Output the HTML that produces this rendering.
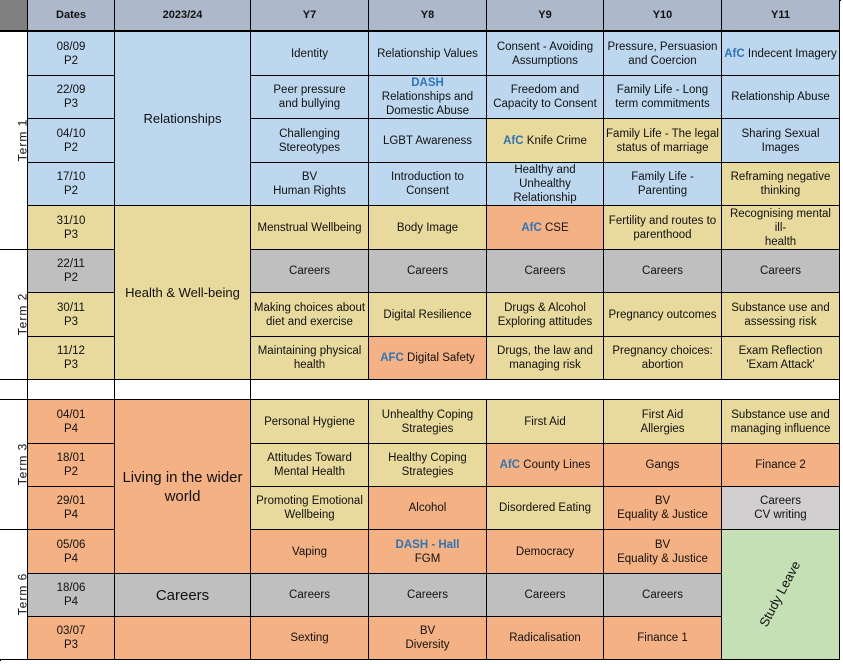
<!DOCTYPE html>
<html><head><meta charset="utf-8">
<style>
body{margin:0;background:#fff;width:843px;height:664px;overflow:hidden;font-family:"Liberation Sans",Arial,sans-serif;}
#t{position:absolute;left:0;top:0;width:841px;height:661px;box-sizing:border-box;border-left:1px solid #000;border-top:1px solid #000;}
.c{position:absolute;box-sizing:border-box;border-right:1px solid #000;border-bottom:1px solid #000;display:flex;align-items:center;justify-content:center;text-align:center;font-size:11.5px;line-height:14px;color:#111;padding:0 1px;}
.c>div{width:100%;}
.h{font-weight:bold;font-size:11px;background:#adb9ca;border-bottom:2px solid #000;}
.a{color:#2e75b6;font-weight:bold;}
.term{display:inline-block;transform:rotate(-90deg);font-size:12px;letter-spacing:1px;white-space:nowrap;}
</style></head><body>
<div id="t"></div>
<script>
const xs=[0,28,115,251,369,487,604,722,840];
const ys=[0,32,76,119,163,206,250,293,337,380,400,444,487,530,574,617,660];
const B='#bdd7ee',Y='#e8d99c',O='#f4b183',G='#bfbfbf',L='#d0cece',N='#c5e0b4';
const headers=['Dates','2023/24','Y7','Y8','Y9','Y10','Y11'];
const dates=[['08/09','P2',B],['22/09','P3',B],['04/10','P2',B],['17/10','P2',B],['31/10','P3',Y],['22/11','P2',G],['30/11','P3',Y],['11/12','P3',Y],null,['04/01','P4',O],['18/01','P2',O],['29/01','P4',O],['05/06','P4',O],['18/06','P4',G],['03/07','P3',O]];
const rows=[
[['Identity',B],['Relationship Values',B],['Consent - Avoiding<br>Assumptions',B],['Pressure, Persuasion<br>and Coercion',B],['<span class="a">AfC</span> Indecent Imagery',B]],
[['Peer pressure<br>and bullying',B],['<span class="a">DASH</span><br>Relationships and<br>Domestic Abuse',B],['Freedom and<br>Capacity to Consent',B],['Family Life - Long<br>term commitments',B],['Relationship Abuse',B]],
[['Challenging<br>Stereotypes',B],['LGBT Awareness',B],['<span class="a">AfC</span> Knife Crime',Y],['Family Life - The legal<br>status of marriage',Y],['Sharing Sexual<br>Images',B]],
[['BV<br>Human Rights',B],['Introduction to<br>Consent',B],['Healthy and Unhealthy<br>Relationship',B],['Family Life - Parenting',B],['Reframing negative<br>thinking',Y]],
[['Menstrual Wellbeing',Y],['Body Image',Y],['<span class="a">AfC</span> CSE',O],['Fertility and routes to<br>parenthood',Y],['Recognising mental ill-<br>health',Y]],
[['Careers',G],['Careers',G],['Careers',G],['Careers',G],['Careers',G]],
[['Making choices about<br>diet and exercise',Y],['Digital Resilience',Y],['Drugs &amp; Alcohol<br>Exploring attitudes',Y],['Pregnancy outcomes',Y],['Substance use and<br>assessing risk',Y]],
[['Maintaining physical<br>health',Y],['<span class="a">AFC</span> Digital Safety',O],['Drugs, the law and<br>managing risk',Y],['Pregnancy choices:<br>abortion',Y],['Exam Reflection<br>\'Exam Attack\'',Y]],
null,
[['Personal Hygiene',Y],['Unhealthy Coping<br>Strategies',Y],['First Aid',Y],['First Aid<br>Allergies',Y],['Substance use and<br>managing influence',Y]],
[['Attitudes Toward<br>Mental Health',Y],['Healthy Coping<br>Strategies',Y],['<span class="a">AfC</span> County Lines',O],['Gangs',O],['Finance 2',O]],
[['Promoting Emotional<br>Wellbeing',Y],['Alcohol',O],['Disordered Eating',Y],['BV<br>Equality &amp; Justice',O],['Careers<br>CV writing',L]],
[['Vaping',O],['<span class="a">DASH - Hall</span><br>FGM',O],['Democracy',O],['BV<br>Equality &amp; Justice',O],null],
[['Careers',G],['Careers',G],['Careers',G],['Careers',G],null],
[['Sexting',O],['BV<br>Diversity',O],['Radicalisation',O],['Finance 1',O],null]];
const themes=[['Relationships',0,4,B,13],['Health &amp; Well-being',4,8,Y,13],['',8,9,'#fff',13],['Living in the wider<br>world',9,13,O,15],['Careers',13,14,G,15],['',14,15,O,13]];
const terms=[['Term 1',0,5],['Term 2',5,8],['',8,9],['Term 3',9,12],['Term 6',12,15]];
const T=document.getElementById('t');
function cell(x0,x1,y0,y1,bg,html,cls){const d=document.createElement('div');d.className='c '+(cls||'');d.style.left=(xs[x0]-1)+'px';d.style.width=(xs[x1]-xs[x0])+'px';d.style.top=(ys[y0]-1)+'px';d.style.height=(ys[y1]-ys[y0])+'px';d.style.background=bg;d.innerHTML='<div>'+html+'</div>';T.appendChild(d);return d;}
let e=cell(0,1,0,1,'#808080','','h');


headers.forEach((h,i)=>{const d=cell(i+1,i+2,0,1,'#adb9ca',h,'h');

});
terms.forEach(t=>{const d=cell(0,1,t[1]+1,t[2]+1,'#fff','<span class="term">'+t[0]+'</span>');

});
dates.forEach((r,i)=>{const d=cell(1,2,i+1,i+2,r?r[2]:'#fff',r?r[0]+'<br>'+r[1]:'');

});
themes.forEach(t=>{const d=cell(2,3,t[1]+1,t[2]+1,t[3],t[0]);d.style.fontSize=t[4]+'px';d.style.lineHeight='19px';

});
rows.forEach((r,i)=>{if(!r){const d=cell(3,8,i+1,i+2,'#fff','');

return;}
r.forEach((c,j)=>{if(!c)return;const d=cell(j+3,j+4,i+1,i+2,c[1],c[0]);

});});
const s=cell(7,8,13,16,N,'<span style="display:inline-block;transform:rotate(-62deg);font-size:13px;white-space:nowrap">Study Leave</span>');


</script>
</body></html>
